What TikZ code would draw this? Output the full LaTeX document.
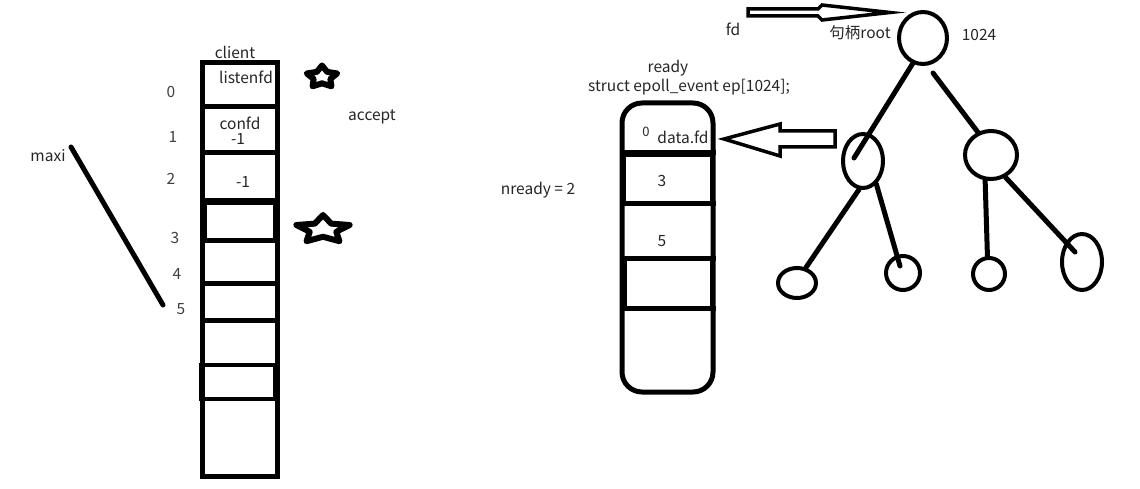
\documentclass[tikz,border=0pt]{standalone}
\usepackage{fontspec}
\setmainfont{Noto Sans CJK SC}
\usetikzlibrary{shapes.geometric}
\begin{document}
\begin{tikzpicture}[x=1pt,y=-1pt,
  txt/.style={font=\fontsize{15.5}{17}\selectfont, text=black!85, inner sep=0pt},
  idx/.style={font=\fontsize{15.5}{17}\selectfont, text=black!75, inner sep=0pt},
  wall/.style={line width=5pt, line cap=rect},
  cellbox/.style={line width=4pt},
  bubble/.style={draw, ellipse, line width=4pt, inner sep=0pt},
  tline/.style={line width=5pt, line cap=round},
  starline/.style={line width=6pt, line join=round},
  hollow/.style={draw, line width=3.5pt, line join=miter, fill=white}]
\useasboundingbox[fill=white] (0,0) rectangle (1140,489);

% ---------------- left array (client) ----------------
\draw[wall] (202,63) rectangle (277,476);
\foreach \yy in {107,153,201,240,283,320} \draw[wall] (202,\yy) -- (277,\yy);
\draw[cellbox] (205,203) rectangle (275,240);
\draw[cellbox] (201,365) rectangle (275,399);

\node[txt] (client) at (235,52) {client};
\node[txt] (listenfd) at (246,77) {listenfd};
\node[txt] (confd) at (240,123) {confd};
\node[txt] (m1a) at (238,139) {-1};
\node[txt] (m1b) at (243,182) {-1};
\node[txt] (accept) at (372,117) {accept};
\node[idx] (i0) at (171,92) {0};
\node[idx] (i1) at (173,137) {1};
\node[idx] (i2) at (171,179) {2};
\node[idx] (i3) at (175,238) {3};
\node[idx] (i4) at (177,274) {4};
\node[idx] (i5) at (181,309) {5};
\node[txt] (maxi) at (48,156) {maxi};
\coordinate (maxiA) at (71,147);
\coordinate (maxiB) at (163,305);
\draw[tline] (maxiA) -- (maxiB);

% stars
\draw[starline] plot[samples at={0,...,9}, variable=\k]
  ({322+16*ifthenelse(mod(\k,2)==0,1,0.55)*cos(90+36*\k)},
   {77-11.5*ifthenelse(mod(\k,2)==0,1,0.55)*sin(90+36*\k)}) -- cycle;
\draw[starline] plot[samples at={0,...,9}, variable=\k]
  ({323+28*ifthenelse(mod(\k,2)==0,1,0.5)*cos(90+36*\k)},
   {229.5-14.5*ifthenelse(mod(\k,2)==0,1,0.5)*sin(90+36*\k)}) -- cycle;

% ---------------- ready array ----------------
\draw[wall, rounded corners=20pt] (622,103) rectangle (713,392);
\foreach \yy in {153,204,258,308} \draw[wall] (622,\yy) -- (713,\yy);
\draw[cellbox] (624,155) rectangle (712,204);
\draw[cellbox] (625,258) rectangle (712,308);

\node[txt] (ready) at (668,68) {ready};
\node[txt] (struct) at (689,87) {struct epoll\_event ep[1024];};
\node[font=\fontsize{13}{15}\selectfont, text=black!85, inner sep=0pt] (r0) at (646,132) {0};
\node[txt] (datafd) at (683,137) {data.fd};
\node[txt] (r3) at (662,181) {3};
\node[txt] (r5) at (662,241) {5};
\node[txt] (nready) at (538,190) {nready = 2};

% ---------------- arrows ----------------
\draw[hollow] (748,9) -- (818,9) -- (822,5) -- (890,12.5) -- (822,20) -- (818,16) -- (748,16) -- cycle;
\node[txt] (fd) at (733,29) {fd};
\draw[hollow] (724,139) -- (780,124) -- (780,131) -- (835,131) -- (835,147) -- (780,147) -- (780,156) -- cycle;

% ---------------- tree ----------------
\node[bubble, minimum width=48pt, minimum height=52pt] (root) at (923,38) {};
\node[bubble, minimum width=40pt, minimum height=54pt] (lc) at (863,161) {};
\node[bubble, minimum width=52pt, minimum height=48pt] (rc) at (991,155) {};
\node[bubble, minimum width=38pt, minimum height=30pt] (leafA) at (797,283) {};
\node[bubble, minimum width=34pt, minimum height=34pt] (leafB) at (903,273) {};
\node[bubble, minimum width=32pt, minimum height=32pt] (leafC) at (989,274) {};
\node[bubble, minimum width=40pt, minimum height=56pt] (leafD) at (1082,262) {};
\node[txt] (handle) at (860,33) {句柄root};
\node[txt] (n1024) at (979,35) {1024};

\coordinate (lcIn) at (854,158);
\coordinate (rootGap) at (933,73);
\coordinate (leafBIn) at (900,266);
\coordinate (leafDIn) at (1075,252);
\draw[tline] (root.248) -- (lcIn);
\draw[tline] (rootGap) -- (rc.120);
\draw[tline] (lc.262) -- (leafA.60);
\draw[tline] (lc.300) -- (leafBIn);
\draw[tline] (rc.257) -- (leafC.95);
\draw[tline] (rc.303) -- (leafDIn);
\end{tikzpicture}
\end{document}
